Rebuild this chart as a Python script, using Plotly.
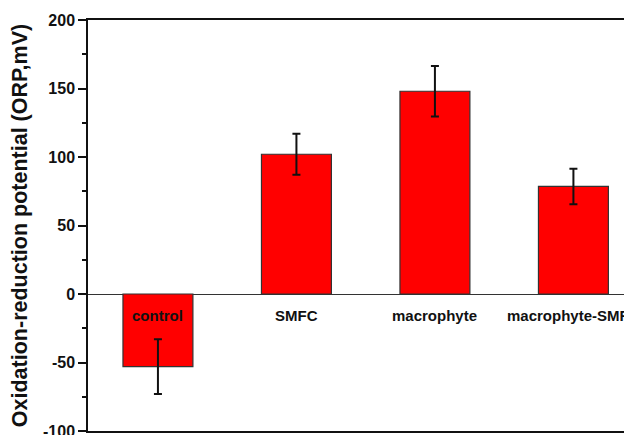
import plotly.graph_objects as go

categories = ["control", "SMFC", "macrophyte", "macrophyte-SMFC"]
orp_values = [-53, 102, 148, 78.5]
orp_errors = [20, 15, 18.5, 13]
label_y = -16
y_ticks = [-100, -50, 0, 50, 100, 150, 200]

FONT = "Arial, Liberation Sans, sans-serif"

x_idx = list(range(len(categories)))

fig = go.Figure()
fig.add_trace(go.Bar(
    x=x_idx, y=orp_values,
    width=0.505,
    marker=dict(color="#ff0000", line=dict(color="#333333", width=1.2)),
    error_y=dict(type="data", array=orp_errors, visible=True,
                 color="#111111", thickness=2, width=4),
    showlegend=False,
))

for i, c in enumerate(categories):
    fig.add_annotation(x=i, y=label_y, text=f"<b>{c}</b>", showarrow=False,
                       xanchor="center", yanchor="middle",
                       font=dict(family=FONT, size=15, color="#111111"))

fig.update_layout(
    width=624, height=427,
    margin=dict(l=80, r=0, t=12, b=4, autoexpand=False),
    plot_bgcolor="white", paper_bgcolor="white",
    font=dict(family=FONT, color="#111111"),
    bargap=0.5,
)
fig.update_xaxes(
    range=[-0.505, 3.423], showticklabels=False, ticks="",
    showline=True, linecolor="#111111", linewidth=1.5, mirror=True,
    showgrid=False, zeroline=False, automargin=False,
)
fig.update_yaxes(
    range=[-100, 200], tickvals=y_ticks,
    ticktext=[f"<b>{v}</b>" for v in y_ticks],
    tickfont=dict(family=FONT, size=16, color="#111111"),
    ticklabeloverflow="allow",
    ticks="outside", ticklen=8, tickwidth=1.5, tickcolor="#111111",
    minor=dict(dtick=25, ticks="outside", ticklen=4, tickwidth=1.5, tickcolor="#111111", showgrid=False),
    showline=True, linecolor="#111111", linewidth=1.5, mirror=False,
    showgrid=False, automargin=False,
    zeroline=True, zerolinecolor="#333333", zerolinewidth=1,
    title=dict(text="<b>Oxidation-reduction potential (ORP,mV)</b>",
               font=dict(family=FONT, size=21.5, color="#111111"), standoff=17),
)

fig.write_html("out.html")
